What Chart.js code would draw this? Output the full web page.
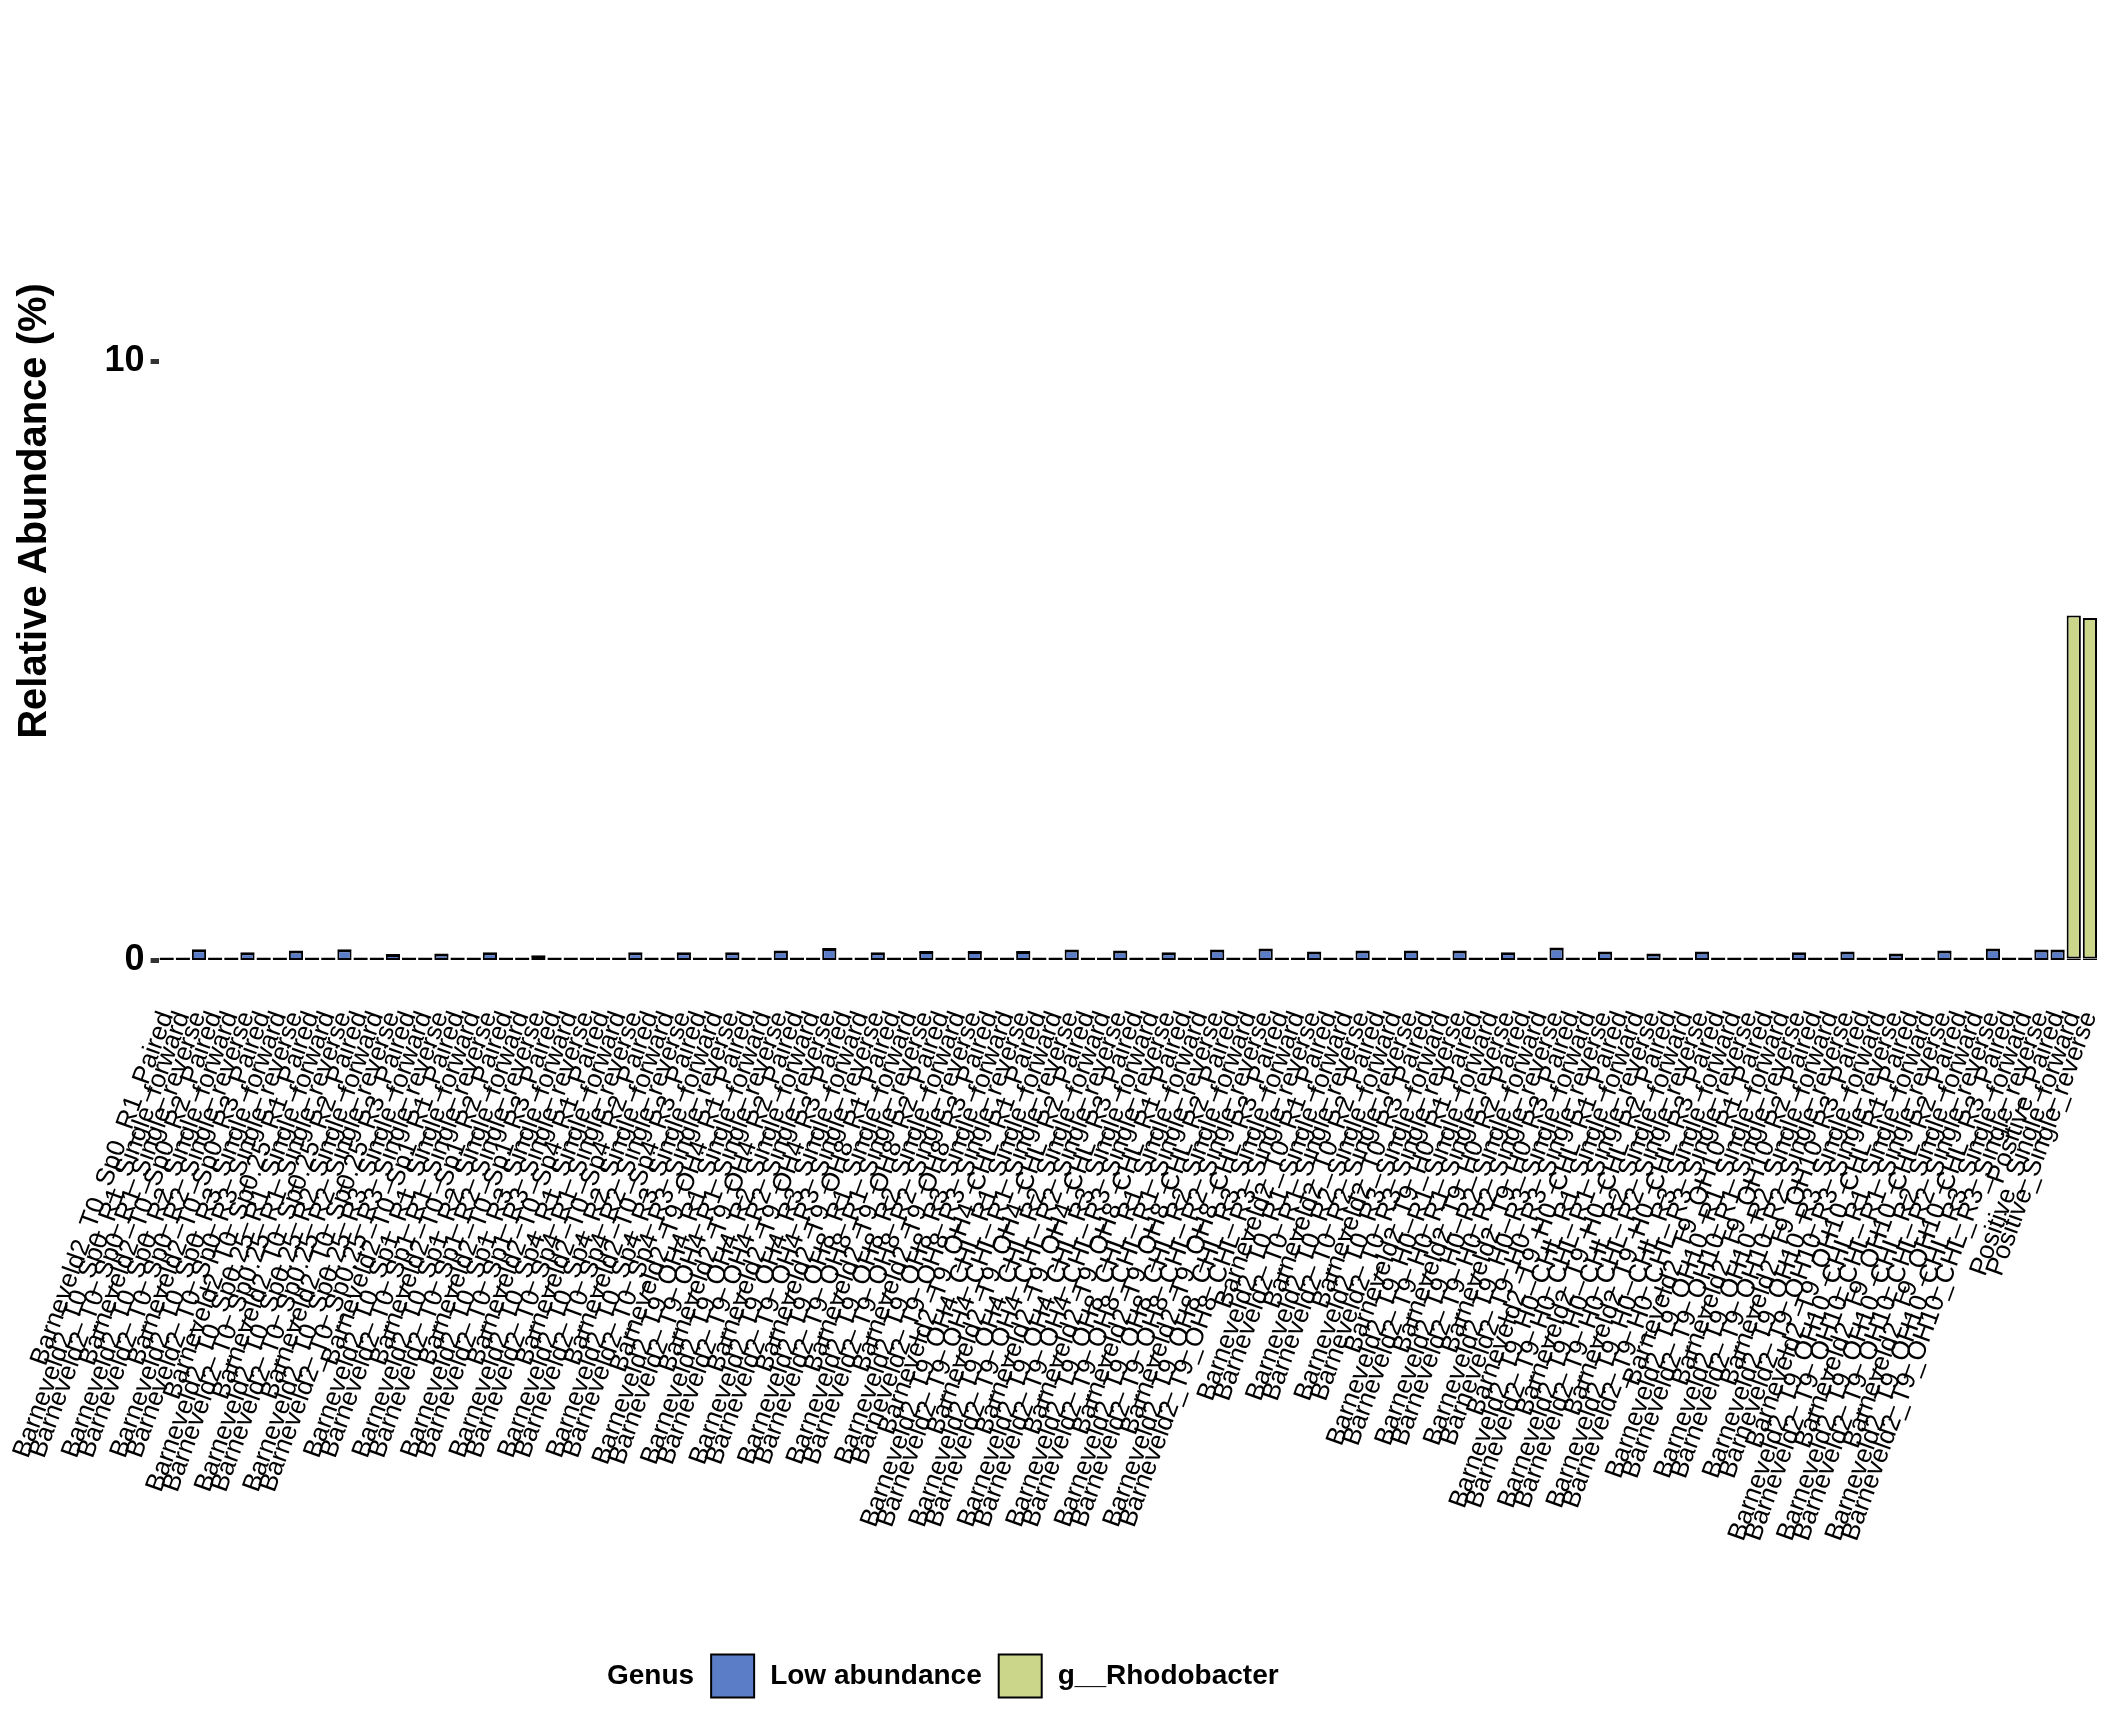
<!DOCTYPE html>
<html><head><meta charset="utf-8">
<script src="https://cdn.jsdelivr.net/npm/chart.js@4.4.1/dist/chart.umd.min.js"></script>
<style>html,body{margin:0;padding:0;background:#fff;} canvas{display:block;}</style>
</head><body>
<canvas id="c" width="2112" height="1728"></canvas>
<script>
const categories = [
"Barneveld2_T0_Sp0_R1_Paired","Barneveld2_T0_Sp0_R1_Single_forward","Barneveld2_T0_Sp0_R1_Single_reverse",
"Barneveld2_T0_Sp0_R2_Paired","Barneveld2_T0_Sp0_R2_Single_forward","Barneveld2_T0_Sp0_R2_Single_reverse",
"Barneveld2_T0_Sp0_R3_Paired","Barneveld2_T0_Sp0_R3_Single_forward","Barneveld2_T0_Sp0_R3_Single_reverse",
"Barneveld2_T0_Sp0.25_R1_Paired","Barneveld2_T0_Sp0.25_R1_Single_forward","Barneveld2_T0_Sp0.25_R1_Single_reverse",
"Barneveld2_T0_Sp0.25_R2_Paired","Barneveld2_T0_Sp0.25_R2_Single_forward","Barneveld2_T0_Sp0.25_R2_Single_reverse",
"Barneveld2_T0_Sp0.25_R3_Paired","Barneveld2_T0_Sp0.25_R3_Single_forward","Barneveld2_T0_Sp0.25_R3_Single_reverse",
"Barneveld2_T0_Sp1_R1_Paired","Barneveld2_T0_Sp1_R1_Single_forward","Barneveld2_T0_Sp1_R1_Single_reverse",
"Barneveld2_T0_Sp1_R2_Paired","Barneveld2_T0_Sp1_R2_Single_forward","Barneveld2_T0_Sp1_R2_Single_reverse",
"Barneveld2_T0_Sp1_R3_Paired","Barneveld2_T0_Sp1_R3_Single_forward","Barneveld2_T0_Sp1_R3_Single_reverse",
"Barneveld2_T0_Sp4_R1_Paired","Barneveld2_T0_Sp4_R1_Single_forward","Barneveld2_T0_Sp4_R1_Single_reverse",
"Barneveld2_T0_Sp4_R2_Paired","Barneveld2_T0_Sp4_R2_Single_forward","Barneveld2_T0_Sp4_R2_Single_reverse",
"Barneveld2_T0_Sp4_R3_Paired","Barneveld2_T0_Sp4_R3_Single_forward","Barneveld2_T0_Sp4_R3_Single_reverse",
"Barneveld2_T9_OH4_R1_Paired","Barneveld2_T9_OH4_R1_Single_forward","Barneveld2_T9_OH4_R1_Single_reverse",
"Barneveld2_T9_OH4_R2_Paired","Barneveld2_T9_OH4_R2_Single_forward","Barneveld2_T9_OH4_R2_Single_reverse",
"Barneveld2_T9_OH4_R3_Paired","Barneveld2_T9_OH4_R3_Single_forward","Barneveld2_T9_OH4_R3_Single_reverse",
"Barneveld2_T9_OH8_R1_Paired","Barneveld2_T9_OH8_R1_Single_forward","Barneveld2_T9_OH8_R1_Single_reverse",
"Barneveld2_T9_OH8_R2_Paired","Barneveld2_T9_OH8_R2_Single_forward","Barneveld2_T9_OH8_R2_Single_reverse",
"Barneveld2_T9_OH8_R3_Paired","Barneveld2_T9_OH8_R3_Single_forward","Barneveld2_T9_OH8_R3_Single_reverse",
"Barneveld2_T9_OH4_CHL_R1_Paired","Barneveld2_T9_OH4_CHL_R1_Single_forward","Barneveld2_T9_OH4_CHL_R1_Single_reverse",
"Barneveld2_T9_OH4_CHL_R2_Paired","Barneveld2_T9_OH4_CHL_R2_Single_forward","Barneveld2_T9_OH4_CHL_R2_Single_reverse",
"Barneveld2_T9_OH4_CHL_R3_Paired","Barneveld2_T9_OH4_CHL_R3_Single_forward","Barneveld2_T9_OH4_CHL_R3_Single_reverse",
"Barneveld2_T9_OH8_CHL_R1_Paired","Barneveld2_T9_OH8_CHL_R1_Single_forward","Barneveld2_T9_OH8_CHL_R1_Single_reverse",
"Barneveld2_T9_OH8_CHL_R2_Paired","Barneveld2_T9_OH8_CHL_R2_Single_forward","Barneveld2_T9_OH8_CHL_R2_Single_reverse",
"Barneveld2_T9_OH8_CHL_R3_Paired","Barneveld2_T9_OH8_CHL_R3_Single_forward","Barneveld2_T9_OH8_CHL_R3_Single_reverse",
"Barneveld2_T0_R1_Paired","Barneveld2_T0_R1_Single_forward","Barneveld2_T0_R1_Single_reverse",
"Barneveld2_T0_R2_Paired","Barneveld2_T0_R2_Single_forward","Barneveld2_T0_R2_Single_reverse",
"Barneveld2_T0_R3_Paired","Barneveld2_T0_R3_Single_forward","Barneveld2_T0_R3_Single_reverse",
"Barneveld2_T9_H0_R1_Paired","Barneveld2_T9_H0_R1_Single_forward","Barneveld2_T9_H0_R1_Single_reverse",
"Barneveld2_T9_H0_R2_Paired","Barneveld2_T9_H0_R2_Single_forward","Barneveld2_T9_H0_R2_Single_reverse",
"Barneveld2_T9_H0_R3_Paired","Barneveld2_T9_H0_R3_Single_forward","Barneveld2_T9_H0_R3_Single_reverse",
"Barneveld2_T9_H0_CHL_R1_Paired","Barneveld2_T9_H0_CHL_R1_Single_forward","Barneveld2_T9_H0_CHL_R1_Single_reverse",
"Barneveld2_T9_H0_CHL_R2_Paired","Barneveld2_T9_H0_CHL_R2_Single_forward","Barneveld2_T9_H0_CHL_R2_Single_reverse",
"Barneveld2_T9_H0_CHL_R3_Paired","Barneveld2_T9_H0_CHL_R3_Single_forward","Barneveld2_T9_H0_CHL_R3_Single_reverse",
"Barneveld2_T9_OH10_R1_Paired","Barneveld2_T9_OH10_R1_Single_forward","Barneveld2_T9_OH10_R1_Single_reverse",
"Barneveld2_T9_OH10_R2_Paired","Barneveld2_T9_OH10_R2_Single_forward","Barneveld2_T9_OH10_R2_Single_reverse",
"Barneveld2_T9_OH10_R3_Paired","Barneveld2_T9_OH10_R3_Single_forward","Barneveld2_T9_OH10_R3_Single_reverse",
"Barneveld2_T9_OH10_CHL_R1_Paired","Barneveld2_T9_OH10_CHL_R1_Single_forward","Barneveld2_T9_OH10_CHL_R1_Single_reverse",
"Barneveld2_T9_OH10_CHL_R2_Paired","Barneveld2_T9_OH10_CHL_R2_Single_forward","Barneveld2_T9_OH10_CHL_R2_Single_reverse",
"Barneveld2_T9_OH10_CHL_R3_Paired","Barneveld2_T9_OH10_CHL_R3_Single_forward","Barneveld2_T9_OH10_CHL_R3_Single_reverse",
"Positive_Paired","Positive_Single_forward","Positive_Single_reverse"
];

const lowAbundance = [
0,0,0.17, 0,0,0.12, 0,0,0.15,
0,0,0.17, 0,0,0.09, 0,0,0.10,
0,0,0.12, 0,0,0.07, 0,0,0,
0,0,0.12, 0,0,0.12, 0,0,0.12,
0,0,0.15, 0,0,0.19, 0,0,0.12,
0,0,0.14, 0,0,0.14, 0,0,0.14,
0,0,0.165, 0,0,0.15, 0,0,0.12,
0,0,0.165, 0,0,0.18, 0,0,0.13,
0,0,0.15, 0,0,0.15, 0,0,0.15,
0,0,0.12, 0,0,0.20, 0,0,0.13,
0,0,0.10, 0,0,0.13, 0,0,0,
0,0,0.12, 0,0,0.13, 0,0,0.10,
0,0,0.15, 0,0,0.18, 0,0,0.165,
0.165,0,0
];

const rhodobacter = [
0,0,0, 0,0,0, 0,0,0,
0,0,0, 0,0,0, 0,0,0,
0,0,0, 0,0,0, 0,0,0,
0,0,0, 0,0,0, 0,0,0,
0,0,0, 0,0,0, 0,0,0,
0,0,0, 0,0,0, 0,0,0,
0,0,0, 0,0,0, 0,0,0,
0,0,0, 0,0,0, 0,0,0,
0,0,0, 0,0,0, 0,0,0,
0,0,0, 0,0,0, 0,0,0,
0,0,0, 0,0,0, 0,0,0,
0,0,0, 0,0,0, 0,0,0,
0,0,0, 0,0,0, 0,0,0,
0,5.72,5.68
];

const seriesNames = ["Low abundance", "g__Rhodobacter"];
const legendTitle = "Genus";
const yTitle = "Relative Abundance (%)";
const yTickStep = 10;
const yMax = 15;
const seriesColors = ["#5B7DC8", "#CBD68A"];

const FONT = "'Liberation Sans', Arial, Helvetica, sans-serif";

const inlineLegend = {
  id: 'inlineLegend',
  afterDraw(chart, args, opts) {
    const ctx = chart.ctx;
    ctx.save();
    ctx.font = 'bold ' + opts.size + 'px ' + FONT;
    ctx.textBaseline = 'middle';
    ctx.textAlign = 'left';
    ctx.fillStyle = '#000';
    let x = opts.x;
    const cy = opts.y;
    ctx.fillText(opts.title, x, cy);
    x += ctx.measureText(opts.title).width + opts.gap;
    chart.data.datasets.forEach(ds => {
      ctx.fillStyle = ds.backgroundColor;
      ctx.fillRect(x, cy - opts.box / 2, opts.box, opts.box);
      ctx.lineWidth = 2;
      ctx.strokeStyle = '#000';
      ctx.strokeRect(x, cy - opts.box / 2, opts.box, opts.box);
      x += opts.box + opts.textGap;
      ctx.fillStyle = '#000';
      ctx.fillText(ds.label, x, cy);
      x += ctx.measureText(ds.label).width + opts.gap;
    });
    ctx.restore();
  }
};

const barStyle = {
  borderColor: '#000000',
  borderWidth: 2,
  borderSkipped: false,
  minBarLength: 2,
  barPercentage: 0.88,
  categoryPercentage: 1.0
};

new Chart(document.getElementById('c'), {
  type: 'bar',
  data: {
    labels: categories,
    datasets: [
      Object.assign({ label: seriesNames[0], data: lowAbundance, backgroundColor: seriesColors[0] }, barStyle),
      Object.assign({ label: seriesNames[1], data: rhodobacter, backgroundColor: seriesColors[1] }, barStyle)
    ]
  },
  options: {
    responsive: false,
    devicePixelRatio: 1,
    animation: false,
    layout: { padding: { left: 0, right: 14, top: 61.5, bottom: 0 } },
    plugins: {
      legend: { display: false },
      tooltip: { enabled: false },
      inlineLegend: { title: legendTitle, x: 607, y: 1676, size: 28, gap: 17, box: 43, textGap: 16 }
    },
    scales: {
      x: {
        stacked: true,
        offset: true,
        grid: { display: false, drawTicks: false },
        border: { display: false },
        ticks: {
          autoSkip: false, maxRotation: 70, minRotation: 70, padding: 47,
          color: '#000', font: { family: FONT, size: 26 }
        },
        afterFit(s) { s.height = 767.6; s.paddingLeft = 0; s.paddingRight = 0; }
      },
      y: {
        stacked: true,
        min: 0, max: yMax,
        grid: { display: true, drawOnChartArea: false, drawTicks: true, tickLength: 8, tickWidth: 5, tickColor: '#333333' },
        border: { display: false },
        ticks: {
          stepSize: yTickStep, includeBounds: false, padding: 6,
          color: '#000', font: { family: FONT, size: 36, weight: 'bold' }
        },
        title: {
          display: true, text: yTitle, color: '#000',
          font: { family: FONT, size: 40, weight: 'bold' },
          padding: { top: 11, bottom: 0 }
        },
        afterFit(s) { s.width = 158.6; s.paddingTop = 0; s.paddingBottom = 0; }
      }
    }
  },
  plugins: [inlineLegend]
});
</script>
</body></html>
